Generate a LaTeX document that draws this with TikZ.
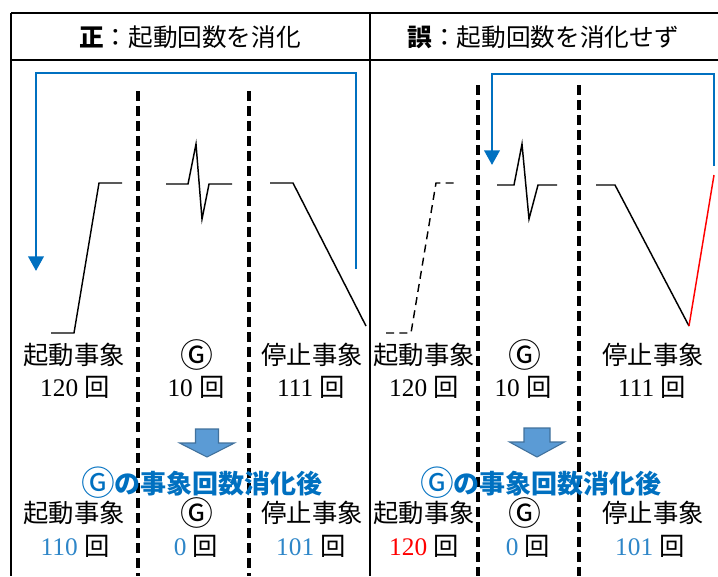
\documentclass[tikz,border=0pt]{standalone}
\usepackage{fontspec}
\setmainfont{Liberation Serif}
\newfontfamily\jp{Noto Sans CJK JP}
\usetikzlibrary{arrows.meta}
\definecolor{myblue}{HTML}{0070C0}
\definecolor{numblue}{HTML}{2E86C8}
\definecolor{arrowfill}{HTML}{5B9BD5}
\definecolor{arrowedge}{HTML}{41719C}
\definecolor{myred}{HTML}{FF0000}
\newcommand{\kai}{{\jp 回}}
\newcommand{\cg}{\raisebox{-0.1em}{\scalebox{1.3}{\jp\mdseries Ⓖ}}}
\begin{document}
\begin{tikzpicture}[x=0.75pt,y=-0.75pt,
  frame/.style={line width=1.3pt},
  divider/.style={line width=2.4pt, dash pattern=on 7.5pt off 3.8pt},
  wave/.style={line width=1.1pt, line join=miter},
  dwave/.style={wave, dash pattern=on 6pt off 4pt},
  flow/.style={draw=myblue, line width=2.1pt, -{Triangle[width=11.5pt,length=11pt]}},
  redwave/.style={line width=1.1pt, draw=myred},
  lbl/.style={font=\fontsize{19}{22}\selectfont\jp, inner sep=0pt, text height=0.8em, text depth=0.12em},
  cnt/.style={font=\fontsize{19}{22}\selectfont, inner sep=0pt, text height=0.8em, text depth=0.12em},
  ttl/.style={font=\fontsize{18.5}{22}\selectfont\jp, inner sep=0pt},
  hdg/.style={font=\fontsize{19.5}{24}\selectfont\jp\bfseries, text=myblue, inner sep=0pt},
  blockarrow/.style={fill=arrowfill, draw=arrowedge, line width=0.8pt, line join=miter}
]
\useasboundingbox (0,0) rectangle (718,576);

% table frame
\draw[frame] (11,13) -- (718,13);
\draw[frame] (11,60) -- (718,60);
\draw[frame] (11,13) -- (11,576);
\draw[frame] (370,13) -- (370,576);

% titles
\node[ttl] (tl) at (190,37) {\textbf{正}：起動回数を消化};
\node[ttl] (tr) at (543,37) {\textbf{誤}：起動回数を消化せず};

% dividers
\draw[divider] (138,91) -- (138,576);
\draw[divider] (249,91) -- (249,576);
\draw[divider] (478,85) -- (478,576);
\draw[divider] (579,85) -- (579,576);

% left waveforms
\draw[wave] (51,333) -- (74,333) -- (99,183) -- (122,183);
\draw[wave] (166,184) -- (188,184) -- (196,144) -- (202,219) -- (209,184) -- (232,184);
\draw[wave] (270,183) -- (293,183) -- (366,326);

% right waveforms
\draw[dwave] (386,333) -- (411,333) -- (436,183) -- (457,183);
\draw[wave] (497,185) -- (514,185) -- (522,144) -- (529,219) -- (538,185) -- (557,185);
\draw[wave] (596,185) -- (615,185) -- (689,326);
\draw[redwave] (689,326) -- (714,175);

% blue flows
\coordinate (Lfs) at (356,269);
\coordinate (Lfe) at (36,271);
\draw[flow] (Lfs) -- ++(0,-196) -| (Lfe);
\coordinate (Rfs) at (714,166);
\coordinate (Rfe) at (492,165);
\draw[flow] (Rfs) -- ++(0,-92) -| (Rfe);

% left column labels
\node[lbl] (l1a) at (74,360) {起動事象};
\node[cnt] (l1b) at (75,392) {120 \kai};
\node[lbl] (l2a) at (197,360) {\cg};
\node[cnt] (l2b) at (196,392) {10 \kai};
\node[lbl] (l3a) at (312,360) {停止事象};
\node[cnt] (l3b) at (311,392) {111 \kai};

% right column labels
\node[lbl] (r1a) at (424,360) {起動事象};
\node[cnt] (r1b) at (424,392) {120 \kai};
\node[lbl] (r2a) at (525,360) {\cg};
\node[cnt] (r2b) at (523,392) {10 \kai};
\node[lbl] (r3a) at (653,360) {停止事象};
\node[cnt] (r3b) at (652,392) {111 \kai};

% block arrows
\draw[blockarrow] (195.5,429) -- (218.5,429) -- (218.5,443) -- (234.5,443) -- (207,457) -- (179.5,443) -- (195.5,443) -- cycle;
\draw[blockarrow] (524,428) -- (550,428) -- (550,442) -- (564.5,442) -- (537,457) -- (509.5,442) -- (524,442) -- cycle;

% headings
\node[hdg] (hl) at (202,483) {\cg の事象回数消化後};
\node[hdg] (hr) at (541,483) {\cg の事象回数消化後};

% after labels left
\node[lbl] (la1) at (74,518) {起動事象};
\node[cnt] (la1b) at (75,551) {\textcolor{numblue}{110} \kai};
\node[lbl] (la2) at (197,518) {\cg};
\node[cnt] (la2b) at (196,551) {\textcolor{numblue}{0} \kai};
\node[lbl] (la3) at (312,518) {停止事象};
\node[cnt] (la3b) at (311,551) {\textcolor{numblue}{101} \kai};

% after labels right
\node[lbl] (ra1) at (424,518) {起動事象};
\node[cnt] (ra1b) at (424,551) {\textcolor{myred}{120} \kai};
\node[lbl] (ra2) at (525,518) {\cg};
\node[cnt] (ra2b) at (528,551) {\textcolor{numblue}{0} \kai};
\node[lbl] (ra3) at (653,518) {停止事象};
\node[cnt] (ra3b) at (650,551) {\textcolor{numblue}{101} \kai};
\end{tikzpicture}
\end{document}
